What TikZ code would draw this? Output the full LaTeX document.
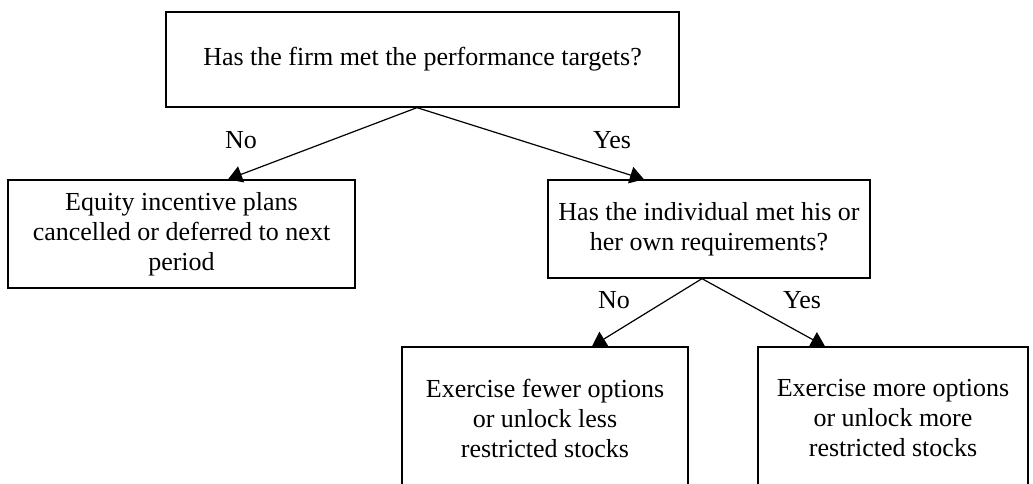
\documentclass[tikz,border=0pt]{standalone}
\usepackage{fontspec}
\setmainfont{Liberation Serif}
\usetikzlibrary{arrows.meta}
\begin{document}
\begin{tikzpicture}[x=1pt,y=-1pt,
  box/.style={draw=black, line width=1.3pt, rectangle, align=center, inner sep=0pt,
    font=\fontsize{26}{30}\selectfont},
  arr/.style={line width=1.2pt, -{Triangle[length=14pt,width=17pt]}},
  lab/.style={anchor=base, inner sep=0pt, font=\fontsize{26}{30}\selectfont}]
\clip (0,0) rectangle (1033,484);
\fill[white] (0,0) rectangle (1033,484);
\node[box, minimum width=513pt, minimum height=95pt] (top) at (422.5,59.5)
  {Has the firm met the performance targets?};
\node[box, minimum width=347pt, minimum height=108pt] (left) at (181.5,234)
  {Equity incentive plans\\cancelled or deferred to next\\period};
\node[box, minimum width=322pt, minimum height=98pt] (mid) at (709,229)
  {Has the individual met his or\\her own requirements?};
\node[box, minimum width=286pt, minimum height=142pt] (bl) at (545,418)
  {Exercise fewer options\\or unlock less\\restricted stocks};
\node[box, minimum width=270pt, minimum height=142pt] (br) at (893,418)
  {Exercise more options\\or unlock more\\restricted stocks};
\coordinate (apexA) at (417,107);
\coordinate (tipNoA) at (228,180);
\coordinate (tipYesA) at (644,180);
\coordinate (apexB) at (702,278);
\coordinate (tipNoB) at (592,347);
\coordinate (tipYesB) at (825,347);
\draw[arr] (top.south -| apexA) -- (left.north -| tipNoA);
\draw[arr] (top.south -| apexA) -- (mid.north -| tipYesA);
\draw[arr] (mid.south -| apexB) -- (bl.north -| tipNoB);
\draw[arr] (mid.south -| apexB) -- (br.north -| tipYesB);
\node[lab] (noA) at (241,149) {No};
\node[lab] (yesA) at (612,149) {Yes};
\node[lab] (noB) at (614,308) {No};
\node[lab] (yesB) at (802,308) {Yes};
\end{tikzpicture}
\end{document}
